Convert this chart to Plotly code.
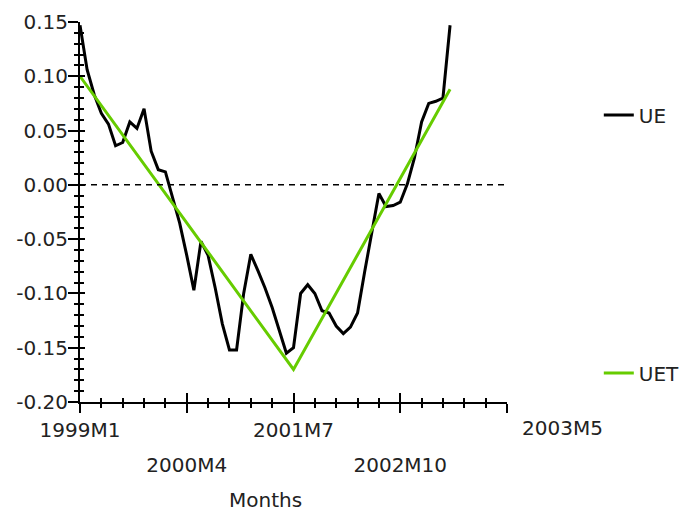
import plotly.graph_objects as go

# ---- data ----
months = ["1999M1", "1999M2", "1999M3", "1999M4", "1999M5", "1999M6", "1999M7", "1999M8", "1999M9", "1999M10", "1999M11", "1999M12",
          "2000M1", "2000M2", "2000M3", "2000M4", "2000M5", "2000M6", "2000M7", "2000M8", "2000M9", "2000M10", "2000M11", "2000M12",
          "2001M1", "2001M2", "2001M3", "2001M4", "2001M5", "2001M6", "2001M7", "2001M8", "2001M9", "2001M10", "2001M11", "2001M12",
          "2002M1", "2002M2", "2002M3", "2002M4", "2002M5", "2002M6", "2002M7", "2002M8", "2002M9", "2002M10", "2002M11", "2002M12",
          "2003M1", "2003M2", "2003M3", "2003M4", "2003M5"]
ue = [0.147, 0.106, 0.083, 0.066, 0.056, 0.036, 0.039, 0.058, 0.052, 0.070,
      0.031, 0.014, 0.012, -0.012, -0.035, -0.065, -0.097, -0.052, -0.065, -0.095,
      -0.128, -0.152, -0.152, -0.100, -0.064, -0.079, -0.095, -0.113, -0.133, -0.155,
      -0.150, -0.100, -0.092, -0.100, -0.116, -0.118, -0.130, -0.137, -0.131, -0.118,
      -0.080, -0.045, -0.008, -0.020, -0.019, -0.016, 0.001, 0.025, 0.058, 0.075,
      0.077, 0.080, 0.147]
uet_months = ["1999M1", "2001M7", "2003M5"]
uet = [0.100, -0.170, 0.088]

x_tick_vals = [0, 15, 30, 45, 60]
x_row1_labels = ["1999M1", "", "2001M7", "", ""]
x_row2_labels = ["", "2000M4", "", "2002M10", ""]
last_label = "2003M5"
y_tick_vals = [-0.20, -0.15, -0.10, -0.05, 0.00, 0.05, 0.10, 0.15]
y_tick_text = ["-0.20", "-0.15", "-0.10", "-0.05", "0.00", "0.05", "0.10", "0.15"]

FONT = "DejaVu Sans"
FS = 20
TXT = "#222222"

ue_x = list(range(len(months)))
uet_x = [months.index(m) for m in uet_months]

fig = go.Figure()
fig.add_trace(go.Scatter(x=ue_x, y=ue, mode="lines", name="UE", text=months,
                         line=dict(color="#000000", width=3), legend="legend"))
fig.add_trace(go.Scatter(x=uet_x, y=uet, mode="lines", name="UET", text=uet_months,
                         line=dict(color="#66CC00", width=3), legend="legend2"))
# empty helper traces so the overlay axes (crossing tick marks, second label row) are drawn
fig.add_trace(go.Scatter(x=[], y=[], xaxis="x2", yaxis="y", showlegend=False, hoverinfo="skip"))
fig.add_trace(go.Scatter(x=[], y=[], xaxis="x", yaxis="y2", showlegend=False, hoverinfo="skip"))

axis_common = dict(showgrid=False, zeroline=False)
# the page body adds an 8px offset, so the margins are reduced by 8px on the left/top
fig.update_layout(
    width=696, height=518,
    margin=dict(l=72, r=197, t=14, b=124, autoexpand=False),
    paper_bgcolor="white", plot_bgcolor="white",
    font=dict(family=FONT, size=FS, color=TXT),
    xaxis=dict(range=[0, 60], tickmode="array", tickvals=x_tick_vals, ticktext=x_row1_labels,
               showline=True, linecolor="black", linewidth=2,
               ticks="outside", ticklen=9, tickwidth=2, tickcolor="black",
               minor=dict(tickmode="linear", tick0=0, dtick=3, ticks="outside", ticklen=4, tickwidth=1.5, tickcolor="black"),
               ticklabelstandoff=0, **axis_common),
    xaxis2=dict(range=[0, 60], overlaying="x", anchor="y", side="bottom", tickmode="array",
                tickvals=x_tick_vals, ticktext=x_row2_labels, showline=False,
                ticks="inside", ticklen=9, tickwidth=2, tickcolor="black",
                minor=dict(tickmode="linear", tick0=0, dtick=3, ticks="inside", ticklen=4, tickwidth=1.5, tickcolor="black"),
                ticklabelstandoff=49, **axis_common),
    yaxis=dict(range=[-0.20, 0.15], tickmode="array", tickvals=y_tick_vals, ticktext=y_tick_text,
               showline=True, linecolor="black", linewidth=2,
               ticks="outside", ticklen=10, tickwidth=2, tickcolor="black",
               minor=dict(tickmode="linear", tick0=0, dtick=0.01, ticks="outside", ticklen=4, tickwidth=1.5, tickcolor="black"),
               ticklabelstandoff=-4, **axis_common),
    yaxis2=dict(range=[-0.20, 0.15], overlaying="y", anchor="x", side="left", tickmode="array",
                tickvals=y_tick_vals, showticklabels=False, showline=False,
                ticks="inside", ticklen=5, tickwidth=2, tickcolor="black",
                minor=dict(tickmode="linear", tick0=0, dtick=0.01, ticks="inside", ticklen=4, tickwidth=1.5, tickcolor="black"),
                **axis_common),
    legend=dict(x=1.215, y=0.755, xanchor="left", yanchor="middle", bgcolor="rgba(0,0,0,0)",
                font=dict(family=FONT, size=FS, color=TXT)),
    legend2=dict(x=1.215, y=0.076, xanchor="left", yanchor="middle", bgcolor="rgba(0,0,0,0)",
                 font=dict(family=FONT, size=FS, color=TXT)),
    showlegend=True,
)

# dashed zero reference line
fig.add_shape(type="line", xref="paper", x0=0, x1=1, yref="y", y0=0, y1=0,
              line=dict(color="black", width=1.5, dash="6px,5px"))

# last category label placed to the right of the axis end, and axis title
fig.add_annotation(text=last_label, xref="paper", x=1.129, yref="paper", y=-0.068,
                   xanchor="center", yanchor="middle", showarrow=False, font=dict(family=FONT, size=FS, color=TXT))
fig.add_annotation(text="Months", xref="x", x=26, yref="paper", y=-0.258,
                   xanchor="center", yanchor="middle", showarrow=False, font=dict(family=FONT, size=FS, color=TXT))

fig.write_html("out.html")
